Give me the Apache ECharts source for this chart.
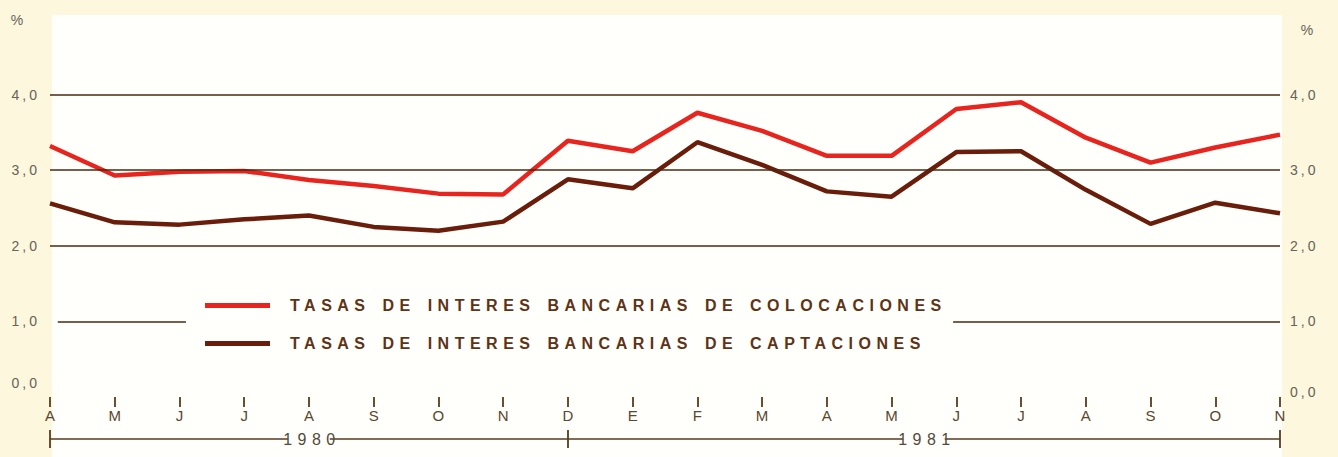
<!DOCTYPE html>
<html>
<head>
<meta charset="utf-8">
<title>Tasas de interes bancarias</title>
<script src="https://cdn.jsdelivr.net/npm/echarts@6.0.0/dist/echarts.min.js"></script>
<style>
  body { margin: 0; background: #fcf7dd; }
  #paper { position: absolute; left: 52px; top: 15px; width: 1230px; height: 442px; background: #fffffb; }
  #main { position: absolute; left: 0; top: 0; width: 1338px; height: 457px; }
  /* the printed chart uses widely spaced capitals */
  #main text[style*="Liberation"] { letter-spacing: 5.5px; word-spacing: 2px; }
  #main text[style*="Arial"] { letter-spacing: 3px; }
</style>
</head>
<body>
<div id="paper"></div>
<div id="main"></div>
<script>
// meses abril 1980 - noviembre 1981
var months = ['A', 'M', 'J', 'J', 'A', 'S', 'O', 'N', 'D', 'E', 'F', 'M', 'A', 'M', 'J', 'J', 'A', 'S', 'O', 'N'];
var colocaciones = [3.32, 2.93, 2.98, 2.99, 2.87, 2.79, 2.69, 2.68, 3.39, 3.25, 3.76, 3.52, 3.19, 3.19, 3.81, 3.90, 3.43, 3.10, 3.30, 3.47];
var captaciones = [2.56, 2.31, 2.28, 2.35, 2.40, 2.25, 2.20, 2.32, 2.88, 2.76, 3.37, 3.07, 2.72, 2.65, 3.24, 3.25, 2.74, 2.29, 2.57, 2.43];
var years = ['1980', '1981'];
var yearBounds = [0, 8, 19];   // month index where each year bracket starts / ends
var yTicks = [0, 1, 2, 3, 4];

var nameColoc = 'TASAS DE INTERES BANCARIAS DE COLOCACIONES';
var nameCapt = 'TASAS DE INTERES BANCARIAS DE CAPTACIONES';

var ink = '#4a2a10';
var labelGray = '#67625a';

function pairs(arr) {
  return arr.map(function (v, i) { return [i, v]; });
}

function fmtY(v) {
  if (yTicks.indexOf(v) < 0) return '';
  var s = v.toFixed(1).replace('.', ',');
  return v === 0 ? '{z|' + s + '}' : s;
}

var yearMid = years.map(function (y, i) { return (yearBounds[i] + yearBounds[i + 1]) / 2; });

var chart = echarts.init(document.getElementById('main'), null, { renderer: 'svg' });

var axisFont = { fontFamily: 'Arial', fontSize: 14, color: labelGray };

var option = {
  animation: false,
  backgroundColor: 'transparent',
  legend: {
    orient: 'vertical',
    left: 205,
    top: 296,
    padding: 0,
    itemWidth: 65,
    itemHeight: 5,
    itemGap: 19,
    icon: 'rect',
    data: [nameColoc, nameCapt],
    textStyle: {
      fontFamily: 'Liberation Sans',
      fontSize: 16,
      fontWeight: 'bold',
      lineHeight: 19,
      color: '#5e3317',
      padding: [0, 0, 0, 15]
    }
  },
  grid: [
    { left: 50, right: 58, top: 19, bottom: 60 },
    { left: 50, right: 58, top: 430, height: 18 }
  ],
  xAxis: [
    {
      gridIndex: 0,
      type: 'value',
      min: 0,
      max: months.length - 1,
      interval: 1,
      axisLine: { show: false },
      splitLine: { show: false },
      axisTick: { show: true, length: 10, lineStyle: { color: '#5a3b1e', width: 1.8 } },
      axisLabel: {
        margin: 11,
        fontFamily: 'Helvetica',
        fontSize: 15,
        color: '#5a4630',
        formatter: function (v) { return months[v] || ''; }
      }
    },
    {
      // etiquetas de año sobre la llave
      gridIndex: 1,
      type: 'value',
      min: 0,
      max: months.length - 1,
      position: 'bottom',
      z: 10,
      axisLine: { show: false },
      axisTick: { show: false },
      splitLine: { show: false },
      axisLabel: {
        customValues: yearMid,
        margin: -17,
        fontFamily: 'Liberation Sans',
        fontSize: 16,
        color: '#554a3b',
        backgroundColor: '#fffffb',
        padding: [0, 0, 0, 6],
        formatter: function (v) {
          var i = yearMid.indexOf(v);
          return i < 0 ? '' : years[i];
        }
      }
    }
  ],
  yAxis: [
    {
      gridIndex: 0,
      type: 'value',
      min: 0,
      max: 5,
      interval: 1,
      position: 'left',
      name: '%',
      nameLocation: 'end',
      nameGap: -8,
      nameTextStyle: { fontFamily: 'Helvetica', fontSize: 14, color: labelGray, align: 'center', padding: [0, 66, 0, 0] },
      axisLine: { show: false },
      axisTick: { show: false },
      splitLine: { show: false },
      axisLabel: Object.assign({ margin: 10, formatter: fmtY, rich: { z: { fontFamily: 'Arial', fontSize: 14, color: labelGray, padding: [0, 0, 28, 0] } } }, axisFont)
    },
    {
      gridIndex: 0,
      type: 'value',
      min: 0,
      max: 5,
      interval: 1,
      position: 'right',
      name: '%',
      nameLocation: 'end',
      nameGap: -18,
      nameTextStyle: { fontFamily: 'Helvetica', fontSize: 14, color: labelGray, align: 'center', padding: [0, 0, 0, 54] },
      axisLine: { show: false },
      axisTick: { show: false },
      splitLine: { show: false },
      axisLabel: Object.assign({ margin: 10, formatter: fmtY, rich: { z: { fontFamily: 'Arial', fontSize: 14, color: labelGray, padding: [0, 0, 10, 0] } } }, axisFont)
    },
    { gridIndex: 1, type: 'value', min: -1, max: 1, show: false }
  ],
  series: [
    {
      // reticula: 2, 3 y 4 completas, 1.0 cortada por la leyenda
      name: 'reticula',
      type: 'line',
      xAxisIndex: 0,
      yAxisIndex: 0,
      data: [],
      silent: true,
      z: 1,
      markLine: {
        silent: true,
        symbol: 'none',
        label: { show: false },
        emphasis: { disabled: true },
        lineStyle: { color: ink, width: 1.6, type: 'solid' },
        data: [
          { yAxis: 2 }, { yAxis: 3 }, { yAxis: 4 },
          [{ coord: [0.12, 1] }, { coord: [2.1, 1] }],
          [{ coord: [13.95, 1] }, { coord: [19, 1] }]
        ]
      }
    },
    {
      name: nameColoc,
      type: 'line',
      xAxisIndex: 0,
      yAxisIndex: 0,
      data: pairs(colocaciones),
      symbol: 'none',
      z: 3,
      color: '#e8241f',
      lineStyle: { color: '#e8241f', width: 4.5 }
    },
    {
      name: nameCapt,
      type: 'line',
      xAxisIndex: 0,
      yAxisIndex: 0,
      data: pairs(captaciones),
      symbol: 'none',
      z: 3,
      color: '#6a1d0a',
      lineStyle: { color: '#6a1d0a', width: 4.5 }
    },
    {
      // llave de años bajo el eje
      name: 'años',
      type: 'line',
      xAxisIndex: 1,
      yAxisIndex: 2,
      data: [[yearBounds[0], 0], [yearBounds[yearBounds.length - 1], 0]],
      symbol: 'none',
      silent: true,
      z: 1,
      lineStyle: { color: '#5a3b1e', width: 1.6 },
      markLine: {
        silent: true,
        symbol: 'none',
        label: { show: false },
        lineStyle: { color: '#5a3b1e', width: 1.8, type: 'solid' },
        data: yearBounds.map(function (b) { return { xAxis: b }; })
      }
    }
  ]
};

chart.setOption(option);
</script>
</body>
</html>
